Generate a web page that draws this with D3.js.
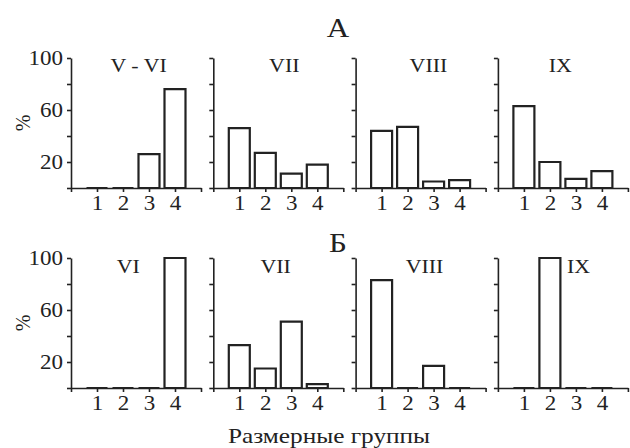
<!DOCTYPE html>
<html>
<head>
<meta charset="utf-8">
<script src="https://cdn.jsdelivr.net/npm/d3@7"></script>
<style>
  body { margin: 0; background: #fff; }
  text { font-family: "Liberation Serif", "Times New Roman", serif; fill: #222; }
</style>
</head>
<body>
<div id="chart"></div>
<script>
var width  = 630;
var height = 448;

// data
var groups   = [1, 2, 3, 4];
var rowNames = ["А", "Б"];
var titlesA  = ["V - VI", "VII", "VIII", "IX"];
var titlesB  = ["VI", "VII", "VIII", "IX"];
var valuesA  = [
  [0, 0, 26, 76],
  [46, 27, 11, 18],
  [44, 47, 5, 6],
  [63, 20, 7, 13]
];
var valuesB  = [
  [0, 0, 0, 100],
  [33, 15, 51, 3],
  [83, 0, 17, 0],
  [0, 100, 0, 0]
];
var yTicks      = [0, 20, 40, 60, 80, 100];
var yTickLabels = [20, 60, 100];
var xTicks      = [0, 1, 2, 3, 4, 5];
var xLabel      = "Размерные группы";
var yLabel      = "%";

// where each panel title sits, in x units
var titleAt = [[2.6, 2.73, 2.8, 2.4], [2.2, 2.4, 2.65, 3.1]];

var rows = [
  { name: rowNames[0], titles: titlesA, values: valuesA, top: 58, letterY: 37 },
  { name: rowNames[1], titles: titlesB, values: valuesB, top: 258, letterY: 252 }
];

var stretch = 1.15;   // the type in the picture is a bit wide

var svg = d3.select("#chart")
    .append("svg")
    .attr("width", width)
    .attr("height", height);

svg.append("rect").attr("width", width).attr("height", height).attr("fill", "#fff");

var panelLeft = 71, panelStep = 142.3, panelW = 130, panelH = 130, barW = 21;

var x = d3.scaleLinear().domain([0, 5]).range([0, panelW]);
var y = d3.scaleLinear().domain([0, 100]).range([panelH, 0]);

// put a text at (tx, ty) and widen it around that point
function wideText(parent, tx, ty, size, str) {
  return parent.append("text")
    .attr("transform", "translate(" + tx + "," + ty + ") scale(" + stretch + ",1)")
    .attr("text-anchor", "middle")
    .style("font-size", size + "px")
    .text(str);
}

rows.forEach(function(row, r) {

  wideText(svg, 338, row.letterY, 27, row.name);

  svg.append("text")
    .attr("transform", "translate(23," + (row.top + panelH / 2) + ") rotate(-90)")
    .attr("text-anchor", "middle")
    .attr("dy", "0.35em")
    .style("font-size", "20px")
    .text(yLabel);

  row.values.forEach(function(vals, i) {
    var g = svg.append("g")
      .attr("transform", "translate(" + (panelLeft + i * panelStep) + "," + row.top + ")");

    var yAxis = d3.axisLeft(y)
      .tickValues(yTicks)
      .tickSizeInner(4)
      .tickSizeOuter(0)
      .tickPadding(4)
      .tickFormat(function(d) {
        return (i === 0 && yTickLabels.indexOf(d) >= 0) ? d : "";
      });

    var xAxis = d3.axisBottom(x)
      .tickValues(xTicks)
      .tickSizeInner(4)
      .tickSizeOuter(0)
      .tickPadding(4)
      .tickFormat(function(d) {
        return groups.indexOf(d) >= 0 ? d : "";
      });

    var ya = g.append("g").call(yAxis);
    var xa = g.append("g").attr("transform", "translate(0," + panelH + ")").call(xAxis);

    [ya, xa].forEach(function(a) {
      a.selectAll("path, line").attr("stroke", "#222").attr("stroke-width", 1.6);
      a.selectAll("text")
        .style("font-size", "20px")
        .style("font-family", "'Liberation Serif', serif")
        .attr("fill", "#222")
        .each(function() {
          var t = d3.select(this);
          var tx = +t.attr("x") || 0, ty = +t.attr("y") || 0;
          t.attr("x", 0).attr("y", 0)
           .attr("transform", "translate(" + tx + "," + ty + ") scale(" + stretch + ",1)");
        });
    });

    g.selectAll("path.bar")
      .data(vals)
      .enter()
      .append("path")
      .attr("class", "bar")
      .attr("d", function(d, k) {
        var x0 = x(groups[k]) - barW / 2;
        return "M" + x0 + "," + y(0) + "V" + y(d) + "H" + (x0 + barW) + "V" + y(0) + "Z";
      })
      .attr("fill", "#fff")
      .attr("stroke", "#222")
      .attr("stroke-width", 2.2);

    wideText(g, x(titleAt[r][i]), 14 + r, 19, row.titles[i]);
  });
});

wideText(svg, 329, 443, 22, xLabel);
</script>
</body>
</html>
